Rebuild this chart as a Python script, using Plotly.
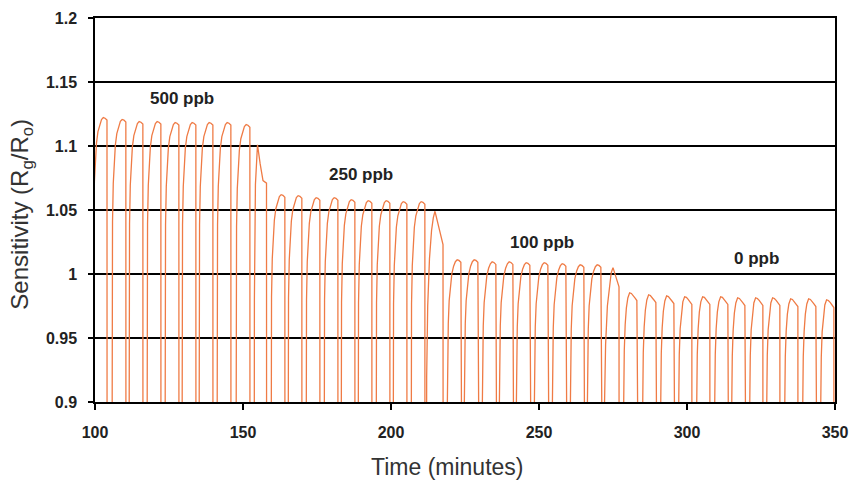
import plotly.graph_objects as go

# ---- data ----
LOW = 0.62  # bottom of each recovery pulse (below visible range)

# rise-start times (min) and plateau values of the regular pulses
rise_500 = [99.2, 105.57, 111.32, 117.40, 123.48, 129.22, 134.97, 141.05, 147.47]
peak_500 = [1.1222, 1.1207, 1.1191, 1.1191, 1.1183, 1.1183, 1.1183, 1.1183, 1.1167]

rise_250 = [159.29, 165.03, 171.11, 177.20, 182.94, 188.68, 194.76, 200.51, 206.59]
peak_250 = [1.0620, 1.0612, 1.0596, 1.0596, 1.0580, 1.0573, 1.0573, 1.0565, 1.0565]

rise_100 = [218.75, 224.49, 230.57, 236.32, 242.06, 248.14, 254.22, 260.30, 266.05]
peak_100 = [1.0111, 1.0111, 1.0095, 1.0095, 1.0088, 1.0088, 1.0080, 1.0072, 1.0072]

rise_0 = [278.21, 284.63, 290.71, 296.79, 302.87, 308.95, 314.70, 320.78, 326.52,
          332.61, 338.68, 344.76]
peak_0 = [0.9853, 0.9837, 0.9829, 0.9822, 0.9822, 0.9822, 0.9814, 0.9814, 0.9814,
          0.9806, 0.9806, 0.9798]

# pulse shape: offset after rise start (min), depth below plateau
shape_hi_t = [0.0, 0.15, 0.35, 0.6, 0.9, 1.3, 1.8, 2.4, 3.0, 3.6, 4.2, 4.85, 4.9]
shape_hi_d = [0.5, 0.14, 0.08, 0.05, 0.032, 0.02, 0.011, 0.005, 0.0015, 0.0, 0.0005, 0.002, None]
shape_lo_t = [0.0, 0.15, 0.35, 0.6, 0.9, 1.3, 1.8, 2.4, 3.0, 3.6, 4.2, 4.85, 4.9]
shape_lo_d = [0.5, 0.14, 0.08, 0.045, 0.025, 0.012, 0.004, 0.0, 0.0005, 0.002, 0.004, 0.006, None]

# concentration-change pulses, read point by point
trans1_t = [153.72, 153.85, 154.2, 154.6, 154.90, 155.8, 156.76, 157.94, 158.0]
trans1_y = [LOW, 0.98, 1.07, 1.095, 1.101, 1.086, 1.073, 1.071, LOW]
trans2_t = [211.9, 212.05, 212.4, 213.0, 213.7, 214.3, 214.86, 216.0, 217.57, 217.65]
trans2_y = [LOW, 0.92, 0.975, 1.012, 1.034, 1.044, 1.049, 1.037, 1.023, LOW]
trans3_t = [272.0, 272.15, 272.5, 273.1, 273.8, 274.4, 275.0, 276.0, 277.03, 277.1]
trans3_y = [LOW, 0.90, 0.945, 0.975, 0.992, 1.001, 1.005, 0.997, 0.990, LOW]

labels = ["500 ppb", "250 ppb", "100 ppb", "0 ppb"]
label_x = [129.5, 190.0, 251.0, 323.5]
label_y = [1.137, 1.078, 1.025, 1.012]

x_ticks = [100, 150, 200, 250, 300, 350]
y_ticks = [0.9, 0.95, 1.0, 1.05, 1.1, 1.15, 1.2]
y_ticktext = ["0.9", "0.95", "1", "1.05", "1.1", "1.15", "1.2"]

x_title = "Time (minutes)"
y_title = "Sensitivity (R<sub>g</sub>/R<sub>o</sub>)"

# ---- build the trace ----
xs, ys = [], []

def add_pulses(rises, peaks, st, sd):
    for r, p in zip(rises, peaks):
        for o, d in zip(st, sd):
            xs.append(r + o)
            ys.append(LOW if d is None else p - d)

add_pulses(rise_500, peak_500, shape_hi_t, shape_hi_d)
xs += trans1_t; ys += trans1_y
add_pulses(rise_250, peak_250, shape_hi_t, shape_hi_d)
xs += trans2_t; ys += trans2_y
add_pulses(rise_100, peak_100, shape_hi_t, shape_hi_d)
xs += trans3_t; ys += trans3_y
add_pulses(rise_0, peak_0, shape_lo_t, shape_lo_d)

FONT = "Liberation Sans, Arial"

fig = go.Figure()
fig.add_trace(go.Scatter(x=xs, y=ys, mode="lines",
                         line=dict(color="#EF7B45", width=1.3),
                         showlegend=False, hoverinfo="skip"))

for t, lx, ly in zip(labels, label_x, label_y):
    fig.add_annotation(x=lx, y=ly, text="<b>%s</b>" % t, showarrow=False,
                       font=dict(family=FONT, size=17, color="#222"))

# axis titles as paper-anchored annotations (positioned as in the reference)
fig.add_annotation(xref="paper", yref="paper", x=0.4757, y=-0.169,
                   xanchor="center", yanchor="middle", showarrow=False,
                   text=x_title, font=dict(size=23, family=FONT, color="#333"))
fig.add_annotation(xref="paper", yref="paper", x=-0.0986, y=0.488,
                   xanchor="center", yanchor="middle", showarrow=False, textangle=-90,
                   text=y_title, font=dict(size=24, family=FONT, color="#333"))

fig.update_layout(
    width=851, height=486,
    margin=dict(l=95, r=16, t=18, b=84),
    paper_bgcolor="white", plot_bgcolor="white",
    font=dict(family=FONT, color="#222"),
)
fig.update_xaxes(range=[100, 350], tickvals=x_ticks, automargin=False,
                 showline=True, linecolor="black", linewidth=1.5, mirror=True,
                 ticks="outside", ticklen=6, tickcolor="black", tickwidth=1.5,
                 showgrid=False, zeroline=False,
                 tickfont=dict(size=16, family=FONT, color="#222", weight="bold"),
                 ticklabelstandoff=9)
fig.update_yaxes(range=[0.9, 1.2], tickvals=y_ticks, ticktext=y_ticktext, automargin=False,
                 showline=True, linecolor="black", linewidth=1.5, mirror=True,
                 ticks="outside", ticklen=5, tickcolor="black", tickwidth=1.5,
                 showgrid=True, gridcolor="black", gridwidth=1.5, zeroline=False,
                 tickfont=dict(size=16, family=FONT, color="#222", weight="bold"),
                 ticklabelstandoff=8)

fig.write_html("out.html")
